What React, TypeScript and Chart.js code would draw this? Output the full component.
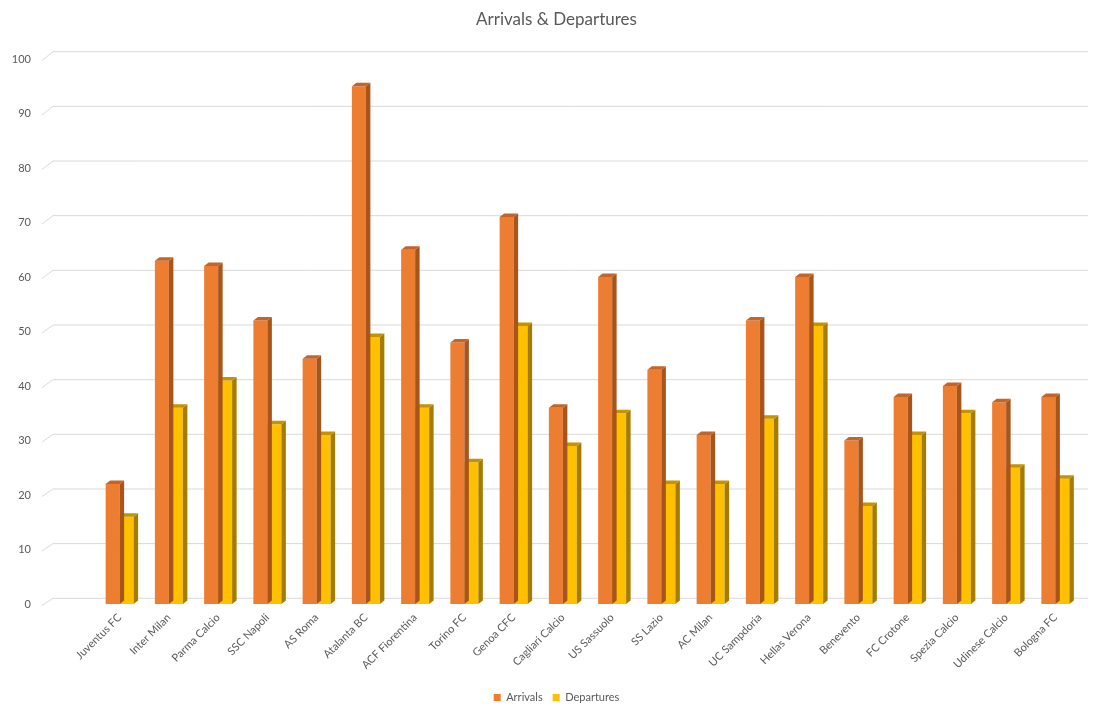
import React, { useEffect, useRef } from "react";
import { Chart, registerables } from "chart.js";

Chart.register(...registerables);

const categories = [
  "Juventus FC", "Inter Milan", "Parma Calcio", "SSC Napoli", "AS Roma",
  "Atalanta BC", "ACF Fiorentina", "Torino FC", "Genoa CFC", "Cagliari Calcio",
  "US Sassuolo", "SS Lazio", "AC Milan", "UC Sampdoria", "Hellas Verona",
  "Benevento", "FC Crotone", "Spezia Calcio", "Udinese Calcio", "Bologna FC",
];
const arrivals = [22, 63, 62, 52, 45, 95, 65, 48, 71, 36, 60, 43, 31, 52, 60, 30, 38, 40, 37, 38];
const departures = [16, 36, 41, 33, 31, 49, 36, 26, 51, 29, 35, 22, 22, 34, 51, 18, 31, 35, 25, 23];
const yTicks = [0, 10, 20, 30, 40, 50, 60, 70, 80, 90, 100];

const FONT = "Lato, 'DejaVu Sans', sans-serif";
const TEXT = "#595959";
const GRID = "#d9d9d9";

const faceColors = [
  { side: "#a8551c", top: "#c2652a" },
  { side: "#a67c00", top: "#c39300" },
];

const backGridPlugin = {
  id: "backGrid",
  beforeDatasetsDraw(chart: any) {
    const y = chart.scales.y;
    const area = chart.chartArea;
    const ctx = chart.ctx;
    ctx.save();
    ctx.strokeStyle = GRID;
    ctx.lineWidth = 1;
    yTicks.forEach((v) => {
      const yf = y.getPixelForValue(v);
      const yb = yf - (5.7 + 0.016 * v);
      ctx.beginPath();
      ctx.moveTo(area.left - 53, yf + 1.5);
      ctx.lineTo(area.left - 42, yb);
      ctx.lineTo(area.right + 8, yb);
      ctx.stroke();
    });
    ctx.restore();
  },
};

const bar3dPlugin = {
  id: "bar3d",
  afterDatasetDraw(chart: any, args: any) {
    const ctx = chart.ctx;
    const meta = args.meta;
    const col = faceColors[args.index] || faceColors[0];
    const dx = 4.5;
    const dy = 3.5;
    ctx.save();
    meta.data.forEach((bar: any) => {
      const p = bar.getProps(["x", "y", "base", "width"], true);
      const left = p.x - p.width / 2;
      const right = p.x + p.width / 2;
      const top = Math.min(p.y, p.base);
      const bottom = Math.max(p.y, p.base);
      ctx.fillStyle = col.side;
      ctx.beginPath();
      ctx.moveTo(right, top);
      ctx.lineTo(right + dx, top - dy);
      ctx.lineTo(right + dx, bottom - dy);
      ctx.lineTo(right, bottom);
      ctx.closePath();
      ctx.fill();
      ctx.fillStyle = col.top;
      ctx.beginPath();
      ctx.moveTo(left, top);
      ctx.lineTo(left + dx, top - dy);
      ctx.lineTo(right + dx, top - dy);
      ctx.lineTo(right, top);
      ctx.closePath();
      ctx.fill();
    });
    ctx.restore();
  },
};

export default function App() {
  const ref = useRef<HTMLCanvasElement | null>(null);

  useEffect(() => {
    document.body.style.margin = "0";
    const canvas = ref.current;
    if (!canvas) return;
    const chart = new Chart(canvas, {
      type: "bar",
      data: {
        labels: categories,
        datasets: [
          {
            label: "Arrivals",
            data: arrivals,
            backgroundColor: "#ed7d31",
            borderWidth: 0,
            barPercentage: 1,
            categoryPercentage: 0.568,
          },
          {
            label: "Departures",
            data: departures,
            backgroundColor: "#ffc000",
            borderWidth: 0,
            barPercentage: 1,
            categoryPercentage: 0.568,
          },
        ],
      },
      options: {
        animation: false,
        responsive: true,
        maintainAspectRatio: false,
        layout: { padding: { left: 0, right: 0, top: 0, bottom: 0 } },
        plugins: {
          title: {
            display: true,
            text: "Arrivals & Departures",
            color: TEXT,
            font: { family: FONT, size: 17, weight: "normal" },
            padding: { top: 9, bottom: 29.6 },
          },
          legend: {
            position: "bottom",
            labels: {
              color: TEXT,
              font: { family: FONT, size: 11 },
              boxWidth: 7,
              boxHeight: 7,
              padding: 10,
            },
          },
          tooltip: { enabled: false },
        },
        scales: {
          x: {
            grid: { display: false, drawTicks: false },
            border: { display: false },
            ticks: {
              color: TEXT,
              font: { family: FONT, size: 11 },
              autoSkip: false,
              maxRotation: 45,
              minRotation: 45,
              padding: 7,
            },
            afterFit: (scale: any) => {
              scale.height = 78;
            },
          },
          y: {
            min: 0,
            max: 100,
            grid: { display: false, drawTicks: false },
            border: { display: false },
            ticks: {
              stepSize: 10,
              color: TEXT,
              font: { family: FONT, size: 11 },
              padding: 64,
            },
            afterFit: (scale: any) => {
              scale.width = 95;
              scale.paddingTop = 6;
              scale.paddingBottom = 6;
            },
          },
          yRight: {
            type: "linear",
            position: "right",
            grid: { display: false, drawTicks: false },
            border: { display: false },
            ticks: { display: false },
            afterFit: (scale: any) => {
              scale.width = 33;
              scale.paddingTop = 0;
              scale.paddingBottom = 0;
            },
          },
        },
      },
      plugins: [backGridPlugin, bar3dPlugin],
    });
    return () => chart.destroy();
  }, []);

  return (
    <div style={{ width: 1113, height: 711, overflow: "hidden", background: "#fff" }}>
      <div style={{ position: "relative", width: 1113, height: 713 }}>
        <canvas ref={ref} />
      </div>
    </div>
  );
}
